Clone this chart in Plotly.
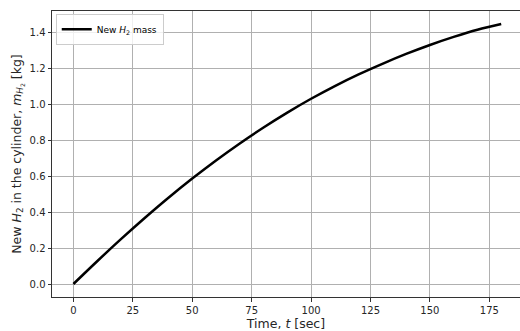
import plotly.graph_objects as go

time_s = [0, 10, 20, 30, 40, 50, 60, 70, 80, 90, 100, 110, 120, 130, 140, 150, 160, 170, 180]
mass_kg = [0.0, 0.127, 0.25, 0.368, 0.481, 0.588, 0.689, 0.784, 0.873, 0.956, 1.033, 1.104, 1.169,
           1.228, 1.283, 1.333, 1.378, 1.418, 1.45]
x_ticks = [0, 25, 50, 75, 100, 125, 150, 175]
y_ticks = [0.0, 0.2, 0.4, 0.6, 0.8, 1.0, 1.2, 1.4]
y_tick_labels = ["0.0", "0.2", "0.4", "0.6", "0.8", "1.0", "1.2", "1.4"]

fig = go.Figure()
fig.add_trace(go.Scatter(
    x=time_s, y=mass_kg, mode="lines", line=dict(color="black", width=2.5, shape="spline", smoothing=1),
    name="New <i>H</i><sub>2</sub> mass",
))

font = "DejaVu Sans, sans-serif"
fig.update_layout(
    width=520, height=331,
    margin=dict(l=52, r=0, t=11, b=34),
    paper_bgcolor="white", plot_bgcolor="white",
    font=dict(family=font, color="#262626", size=10),
    showlegend=True,
    legend=dict(x=0.008, y=0.99, xanchor="left", yanchor="top",
                bgcolor="rgba(255,255,255,0.8)", bordercolor="#cccccc", borderwidth=1,
                font=dict(size=9, family=font, color="black"), itemwidth=30,
                tracegroupgap=0),
    xaxis=dict(range=[-9, 187.9], tickvals=x_ticks, ticks="outside", ticklen=3.5, tickwidth=1,
               tickcolor="#333", showline=True, linecolor="#333", linewidth=1, mirror=True,
               showgrid=True, gridcolor="#b0b0b0", gridwidth=1, zeroline=False, automargin=False,
               title=dict(text="Time, <i>t</i> [sec]", font=dict(size=12.5), standoff=6)),
    yaxis=dict(range=[-0.0725, 1.5225], tickvals=y_ticks, ticktext=y_tick_labels, ticks="outside",
               ticklen=3.5, tickwidth=1, tickcolor="#333", showline=True, linecolor="#333", linewidth=1,
               mirror=False, showgrid=True, gridcolor="#b0b0b0", gridwidth=1, zeroline=False, automargin=False,
               title=dict(text="New <i>H</i><sub>2</sub> in the cylinder, <i>m</i><sub><i>H</i><sub>2</sub></sub> [kg]",
                          font=dict(size=12.5), standoff=5)),
)
fig.write_html("out.html", config={"displayModeBar": False},
               post_script="document.body.style.margin='0px';")
